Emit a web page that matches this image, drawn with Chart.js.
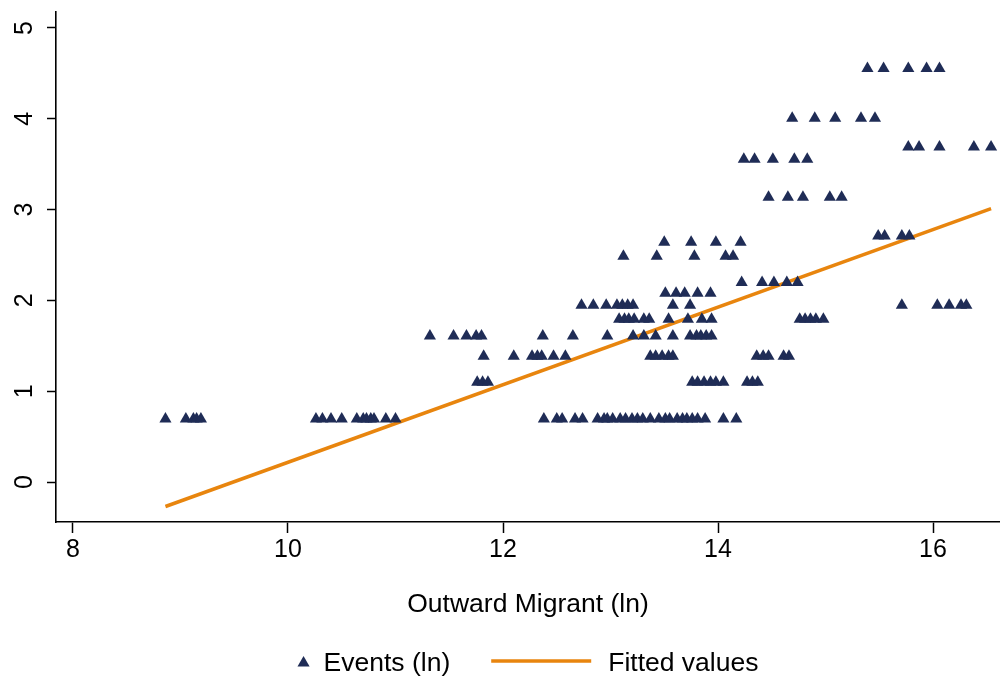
<!DOCTYPE html>
<html>
<head>
<meta charset="utf-8">
<script src="https://cdn.jsdelivr.net/npm/chart.js@4.4.1/dist/chart.umd.min.js"></script>
<style>
  html, body { margin: 0; padding: 0; background: #fff; }
  #wrap { width: 1000px; height: 681px; }
</style>
</head>
<body>
<div id="wrap"><canvas id="scatterChart"></canvas></div>
<script>
const xTicks = [8, 10, 12, 14, 16];
const yTicks = [0, 1, 2, 3, 4, 5];

// Events (ln): the y values are discrete levels, x values read per level
const eventLevels = [0.693, 1.099, 1.386, 1.609, 1.792, 1.946, 2.079, 2.197,
                     2.485, 2.639, 2.708, 3.135, 3.555, 3.689, 4.007, 4.554];
const eventXByLevel = [
    [8.86, 9.05, 9.12, 9.15, 9.19, 10.26, 10.32, 10.40, 10.50, 10.64, 10.70, 10.73, 10.77, 10.80,
     10.91, 11.00, 12.38, 12.50, 12.55, 12.67, 12.74, 12.88, 12.94, 12.97, 13.02, 13.09, 13.14,
     13.20, 13.25, 13.30, 13.37, 13.45, 13.51, 13.55, 13.62, 13.67, 13.71, 13.76, 13.81, 13.88,
     14.05, 14.17],
    [11.76, 11.81, 11.86, 13.76, 13.81, 13.87, 13.93, 13.98, 14.05, 14.27, 14.32, 14.37],
    [11.82, 12.10, 12.27, 12.32, 12.36, 12.47, 12.58, 13.37, 13.42, 13.48, 13.54, 13.58, 14.36,
     14.42, 14.47, 14.61, 14.66],
    [11.32, 11.54, 11.66, 11.75, 11.80, 12.37, 12.65, 12.97, 13.21, 13.31, 13.42, 13.58, 13.74,
     13.80, 13.84, 13.89, 13.94],
    [13.08, 13.13, 13.17, 13.22, 13.31, 13.36, 13.54, 13.72, 13.85, 13.94, 14.76, 14.81, 14.86,
     14.91, 14.98],
    [12.73, 12.84, 12.96, 13.06, 13.11, 13.16, 13.21, 13.58, 13.74, 15.71, 16.04, 16.15, 16.26, 16.31],
    [13.51, 13.61, 13.69, 13.81, 13.93],
    [14.22, 14.41, 14.52, 14.64, 14.74],
    [13.12, 13.43, 13.78, 14.07, 14.14],
    [13.50, 13.75, 13.98, 14.21],
    [15.49, 15.55, 15.71, 15.78],
    [14.47, 14.65, 14.79, 15.04, 15.15],
    [14.24, 14.34, 14.51, 14.71, 14.83],
    [15.77, 15.87, 16.06, 16.38, 16.54],
    [14.69, 14.90, 15.09, 15.33, 15.46],
    [15.39, 15.54, 15.77, 15.94, 16.06]
];

// Fitted values (straight line, end points)
const fitX = [8.86, 16.54];
const fitY = [-0.27, 3.01];

const navy = '#1f2c56';
const orange = '#e8850e';
const fontFamily = '"Liberation Sans", Arial, Helvetica, sans-serif';

const eventPoints = [];
eventLevels.forEach((lv, i) => {
    eventXByLevel[i].forEach(x => eventPoints.push({ x: x, y: lv }));
});
const fitPoints = fitX.map((x, i) => ({ x: x, y: fitY[i] }));

// no extra room for the labels, the plot area is set by layout padding + afterFit
function noPadding(s) {
    s.paddingTop = 0;
    s.paddingBottom = 0;
    s.paddingLeft = 0;
    s.paddingRight = 0;
}

// legend drawn under the axis title, like the stata one
const bottomLegend = {
    id: 'bottomLegend',
    afterDraw(chart) {
        const ctx = chart.ctx;
        const area = chart.chartArea;
        const ev = chart.data.datasets[0];
        const fit = chart.data.datasets[1];
        ctx.save();
        ctx.font = '26.5px ' + fontFamily;
        ctx.textBaseline = 'alphabetic';
        const w1 = ctx.measureText(ev.label).width;
        const w2 = ctx.measureText(fit.label).width;
        const total = 12 + 14 + w1 + 41 + 100 + 17 + w2;
        let x = (area.left + area.right) / 2 - total / 2;
        const base = 670.5;

        ctx.fillStyle = navy;
        Chart.helpers.drawPoint(ctx, { pointStyle: 'triangle', radius: 7, borderWidth: 0, rotation: 0 }, x + 6, 663);
        x += 26;
        ctx.fillStyle = '#000';
        ctx.fillText(ev.label, x, base);
        x += w1 + 41;

        ctx.strokeStyle = orange;
        ctx.lineWidth = 3.5;
        ctx.beginPath();
        ctx.moveTo(x, 661);
        ctx.lineTo(x + 100, 661);
        ctx.stroke();
        x += 117;
        ctx.fillText(fit.label, x, base);
        ctx.restore();
    }
};

const ctx = document.getElementById('scatterChart').getContext('2d');
new Chart(ctx, {
    type: 'scatter',
    data: {
        datasets: [{
            label: 'Events (ln)',
            data: eventPoints,
            pointStyle: 'triangle',
            pointRadius: 7,
            pointHoverRadius: 7,
            pointBorderWidth: 0,
            backgroundColor: navy,
            borderColor: navy
        }, {
            type: 'line',
            label: 'Fitted values',
            data: fitPoints,
            borderColor: orange,
            backgroundColor: orange,
            borderWidth: 3.5,
            pointRadius: 0,
            fill: false
        }]
    },
    options: {
        responsive: true,
        maintainAspectRatio: false,
        animation: false,
        layout: { autoPadding: false, padding: { top: 12, right: 0, bottom: 56, left: 0 } },
        plugins: {
            legend: { display: false },
            tooltip: { enabled: false }
        },
        scales: {
            x: {
                type: 'linear',
                min: 7.842,
                max: 16.623,
                afterBuildTicks: s => { s.ticks = xTicks.map(v => ({ value: v })); },
                afterFit: s => { s.height = 103; noPadding(s); },
                grid: { drawOnChartArea: false, drawTicks: true, tickLength: 11, tickColor: '#000', tickWidth: 1.5 },
                border: { display: true, color: '#000', width: 1.6 },
                ticks: { color: '#000', padding: 2, font: { family: fontFamily, size: 25 }, maxRotation: 0 },
                title: {
                    display: true,
                    text: 'Outward Migrant (ln)',
                    color: '#000',
                    font: { family: fontFamily, size: 26.5 },
                    padding: { top: 0, bottom: 4 }
                }
            },
            y: {
                type: 'linear',
                min: -0.4405,
                max: 5.176,
                afterBuildTicks: s => { s.ticks = yTicks.map(v => ({ value: v })); },
                afterFit: s => { s.width = 56; noPadding(s); },
                grid: { drawOnChartArea: false, drawTicks: true, tickLength: 9, tickColor: '#000', tickWidth: 1.5 },
                border: { display: true, color: '#000', width: 1.6 },
                ticks: {
                    color: '#000',
                    padding: 15,
                    minRotation: 90,
                    maxRotation: 90,
                    crossAlign: 'center',
                    font: { family: fontFamily, size: 25 }
                }
            }
        }
    },
    plugins: [bottomLegend]
});
</script>
</body>
</html>
